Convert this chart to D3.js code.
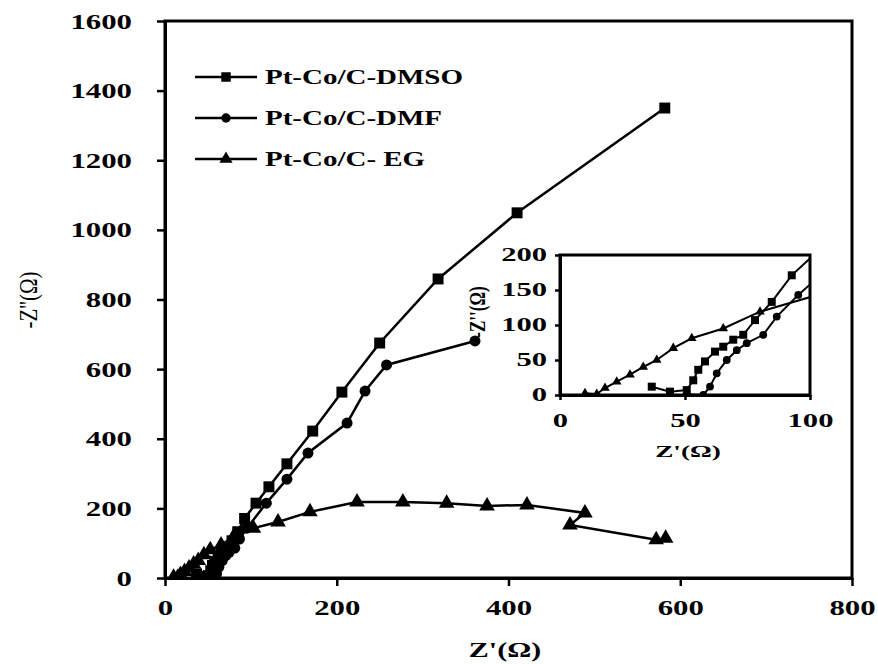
<!DOCTYPE html>
<html>
<head>
<meta charset="utf-8">
<script src="https://cdn.jsdelivr.net/npm/d3@7"></script>
<style>
body { margin: 0; background: #fff; }
svg { display: block; }
</style>
</head>
<body>
<div id="chart"></div>
<script>
// Z' / -Z'' values (ohm)
var dmsoX = [36.7, 44, 50.7, 53.3, 55.3, 58, 62, 65.3, 69.3, 73.3, 78, 84.7, 92.7, 106, 121, 142, 172, 206, 250, 318, 410, 582];
var dmsoY = [11.9, 4.8, 7, 21, 36, 48, 62, 69, 79, 86, 107, 133, 171, 215, 262, 328, 422, 534, 675, 859, 1049, 1350];

var dmfX = [50.7, 57.3, 60, 62.7, 66.7, 70.7, 74.7, 81.3, 86.7, 95.3, 118, 142, 166.5, 212, 233, 258, 361];
var dmfY = [1, 0, 12, 31, 50, 64, 74, 86, 112, 143, 215, 284, 359, 445, 537, 612, 681];

var egX = [10, 14.7, 18, 22.7, 28, 33.3, 38.7, 45.3, 52.7, 65.3, 80, 103, 131.6, 168.8, 223.6, 277, 328, 375, 421.5, 489, 471.6, 572, 583];
var egY = [2.4, 1.4, 10, 19, 29, 40, 50, 67, 81, 95, 119, 143, 161, 190, 218, 218, 215, 207, 210, 187, 152, 110, 114];

var seriesNames = ["Pt-Co/C-DMSO", "Pt-Co/C-DMF", "Pt-Co/C- EG"];
var seriesShapes = ["square", "circle", "triangle"];

var mainXTicks = [0, 200, 400, 600, 800];
var mainYTicks = [0, 200, 400, 600, 800, 1000, 1200, 1400, 1600];
var insetXTicks = [0, 50, 100];
var insetYTicks = [0, 50, 100, 150, 200];

var FONT = "'Liberation Serif', 'Times New Roman', serif";

function pts(xs, ys) {
	var out = [];
	for (var i = 0; i < xs.length; i++) out.push([xs[i], ys[i]]);
	return out;
}
var series = [pts(dmsoX, dmsoY), pts(dmfX, dmfY), pts(egX, egY)];

var svg = d3.select("#chart").append("svg").attr("width", 878).attr("height", 664);
svg.append("rect").attr("width", 878).attr("height", 664).attr("fill", "#fff");

function symbolPath(shape, size) {
	var t = shape == "square" ? d3.symbolSquare : (shape == "circle" ? d3.symbolCircle : d3.symbolTriangle);
	return d3.symbol().type(t).size(size)();
}

// stretched text (the source figure is wider than tall)
function stext(parent, x, y, str, size, sx, anchor, weight) {
	return parent.append("text")
		.attr("transform", "translate(" + x + "," + y + ") scale(" + sx + ",1)")
		.attr("text-anchor", anchor || "middle")
		.attr("font-family", FONT)
		.attr("font-size", size)
		.attr("font-weight", weight || "bold")
		.attr("fill", "#000")
		.text(str);
}

function drawPlot(cfg) {
	var x = d3.scaleLinear().domain(cfg.xd).range(cfg.xr);
	var y = d3.scaleLinear().domain(cfg.yd).range(cfg.yr);
	var g = svg.append("g");

	var clipId = "clip_" + cfg.id;
	svg.append("clipPath").attr("id", clipId).append("rect")
		.attr("x", cfg.xr[0]).attr("y", cfg.yr[1])
		.attr("width", cfg.xr[1] - cfg.xr[0]).attr("height", cfg.yr[0] - cfg.yr[1]);

	var line = d3.line().x(function(d) { return x(d[0]); }).y(function(d) { return y(d[1]); });
	var data = g.append("g").attr("clip-path", "url(#" + clipId + ")");
	series.forEach(function(s, i) {
		data.append("path").datum(s).attr("d", line)
			.attr("fill", "none").attr("stroke", "#000").attr("stroke-width", cfg.lw);
		data.selectAll(null).data(s.filter(function(d) {
				return d[0] <= cfg.xd[1] && d[1] <= cfg.yd[1];
			})).enter().append("path")
			.attr("d", symbolPath(seriesShapes[i], cfg.msize[i]))
			.attr("transform", function(d) { return "translate(" + x(d[0]) + "," + y(d[1]) + ")"; })
			.attr("fill", "#000");
	});

	// frame
	g.append("rect").attr("x", cfg.xr[0]).attr("y", cfg.yr[1])
		.attr("width", cfg.xr[1] - cfg.xr[0]).attr("height", cfg.yr[0] - cfg.yr[1])
		.attr("fill", "none").attr("stroke", "#000").attr("stroke-width", cfg.fw);

	var ax = g.append("g").attr("transform", "translate(0," + cfg.yr[0] + ")")
		.call(d3.axisBottom(x).tickValues(cfg.xt).tickFormat(d3.format("d")).tickSize(cfg.ts).tickSizeOuter(0));
	var ay = g.append("g").attr("transform", "translate(" + cfg.xr[0] + ",0)")
		.call(d3.axisLeft(y).tickValues(cfg.yt).tickFormat(d3.format("d")).tickSize(cfg.ts).tickSizeOuter(0));
	[ax, ay].forEach(function(a) {
		a.select(".domain").attr("stroke", "#000").attr("stroke-width", cfg.fw);
		a.selectAll(".tick line").attr("stroke", "#000").attr("stroke-width", 2.5);
		a.selectAll("text").attr("font-family", FONT).attr("font-weight", "bold")
			.attr("font-size", cfg.fs).attr("fill", "#000");
	});
	ax.selectAll("text").attr("y", cfg.xlab).attr("transform", "scale(" + cfg.sx + ",1)");
	ay.selectAll("text").attr("x", -cfg.ylab / cfg.sx).attr("transform", "scale(" + cfg.sx + ",1)");
	return g;
}

drawPlot({
	id: "main", xd: [0, 800], yd: [0, 1600], xr: [165, 852], yr: [578, 21],
	xt: mainXTicks, yt: mainYTicks, lw: 2.5, fw: 3, ts: 8, fs: 22, sx: 1.4,
	xlab: 21, ylab: 33, msize: [120, 95, 105]
});

// axis titles
stext(svg, 505, 657, "Z'(\u03a9)", 20, 1.5, "middle", "bold");
svg.append("text")
	.attr("transform", "translate(37,300) rotate(-90) scale(1,1.2)")
	.attr("text-anchor", "middle").attr("font-family", FONT).attr("font-size", 21)
	.attr("fill", "#000").text("-Z''(\u03a9)");

// inset
svg.append("rect").attr("x", 560).attr("y", 255).attr("width", 250).attr("height", 140).attr("fill", "#fff");
drawPlot({
	id: "inset", xd: [0, 100], yd: [0, 200], xr: [560, 810], yr: [395, 255],
	xt: insetXTicks, yt: insetYTicks, lw: 2, fw: 3, ts: 5, fs: 18, sx: 1.7,
	xlab: 19, ylab: 13, msize: [64, 48, 40]
});
stext(svg, 688, 457, "Z'(\u03a9)", 17, 1.6, "middle", "bold");
svg.append("text")
	.attr("transform", "translate(485,312) rotate(-90) scale(1,1.4)")
	.attr("text-anchor", "middle").attr("font-family", FONT).attr("font-size", 17)
	.attr("font-weight", "bold").attr("fill", "#000").text("-Z''(\u03a9)");

// legend
var legendY = [77, 118, 159];
seriesNames.forEach(function(name, i) {
	var lg = svg.append("g");
	lg.append("line").attr("x1", 195).attr("x2", 257).attr("y1", legendY[i]).attr("y2", legendY[i])
		.attr("stroke", "#000").attr("stroke-width", 2.5);
	lg.append("path").attr("d", symbolPath(seriesShapes[i], [90, 70, 75][i]))
		.attr("transform", "translate(226," + legendY[i] + ")").attr("fill", "#000");
	stext(lg, 265, legendY[i] + 7, name, 20, 1.45, "start", "bold");
});
</script>
</body>
</html>
